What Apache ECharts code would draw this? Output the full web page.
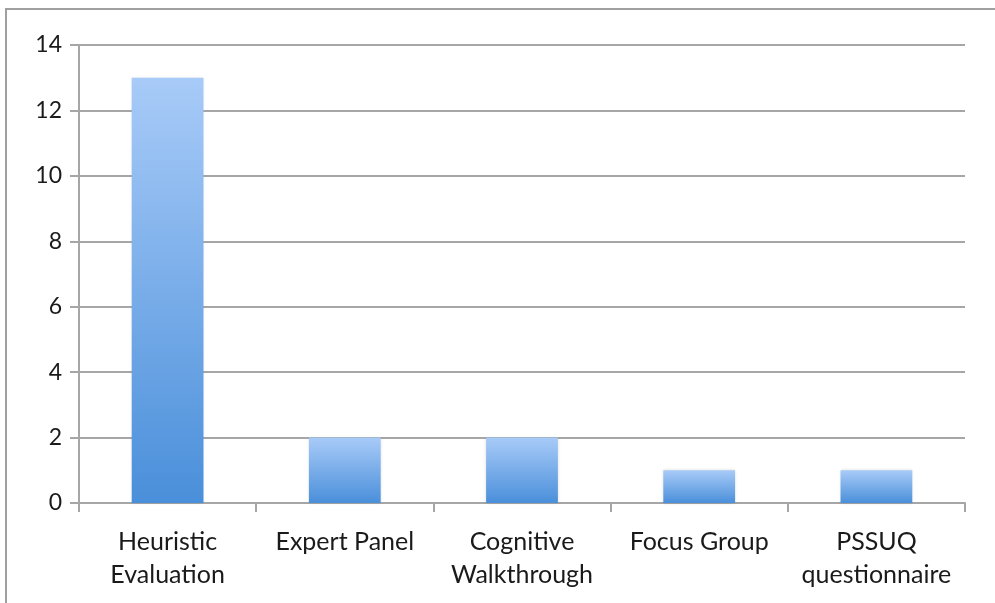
<!DOCTYPE html>
<html>
<head>
<meta charset="utf-8">
<script src="https://cdn.jsdelivr.net/npm/echarts@6/dist/echarts.min.js"></script>
<style>
  html, body { margin: 0; padding: 0; background: #fff; }
  #frame {
    position: absolute; left: 5px; top: 8px; width: 1000px; height: 600px;
    border-left: 2px solid #a0a0a0; border-top: 2px solid #a0a0a0;
  }
  #chart { position: absolute; left: 0; top: 0; width: 995px; height: 603px; }
</style>
</head>
<body>
<div id="frame"></div>
<div id="chart"></div>
<script>
  const categories = [
    "Heuristic\nEvaluation",
    "Expert Panel",
    "Cognitive\nWalkthrough",
    "Focus Group",
    "PSSUQ\nquestionnaire"
  ];
  const counts = [13, 2, 2, 1, 1];
  const yMin = 0;
  const yMax = 14;
  const yStep = 2;

  const chart = echarts.init(document.getElementById("chart"));

  const axisGray = "#a6a6a6";
  const font = "Lato, 'Open Sans', sans-serif";

  chart.setOption({
    animation: false,
    grid: { left: 79, right: 30, top: 45, bottom: 100 },
    xAxis: {
      type: "category",
      data: categories,
      axisLine: { lineStyle: { color: axisGray, width: 2 } },
      axisTick: { show: true, alignWithLabel: false, length: 9, lineStyle: { color: axisGray, width: 2 } },
      axisLabel: {
        color: "#1a1a1a",
        fontFamily: font,
        fontSize: 25,
        lineHeight: 33,
        margin: 22,
        interval: 0
      }
    },
    yAxis: {
      type: "value",
      min: yMin,
      max: yMax,
      interval: yStep,
      axisLine: { show: true, lineStyle: { color: axisGray, width: 2 } },
      axisTick: { show: true, length: 9, lineStyle: { color: axisGray, width: 2 } },
      splitLine: { lineStyle: { color: axisGray, width: 2 } },
      axisLabel: {
        color: "#1a1a1a",
        fontFamily: font,
        fontSize: 23,
        margin: 17
      }
    },
    series: [{
      type: "bar",
      data: counts,
      barWidth: "40.5%",
      itemStyle: {
        color: new echarts.graphic.LinearGradient(0, 0, 0, 1, [
          { offset: 0, color: "#a8cbf8" },
          { offset: 1, color: "#4a8fda" }
        ]),
        shadowColor: "rgba(0,0,0,0.15)",
        shadowBlur: 3
      }
    }]
  });
</script>
</body>
</html>
